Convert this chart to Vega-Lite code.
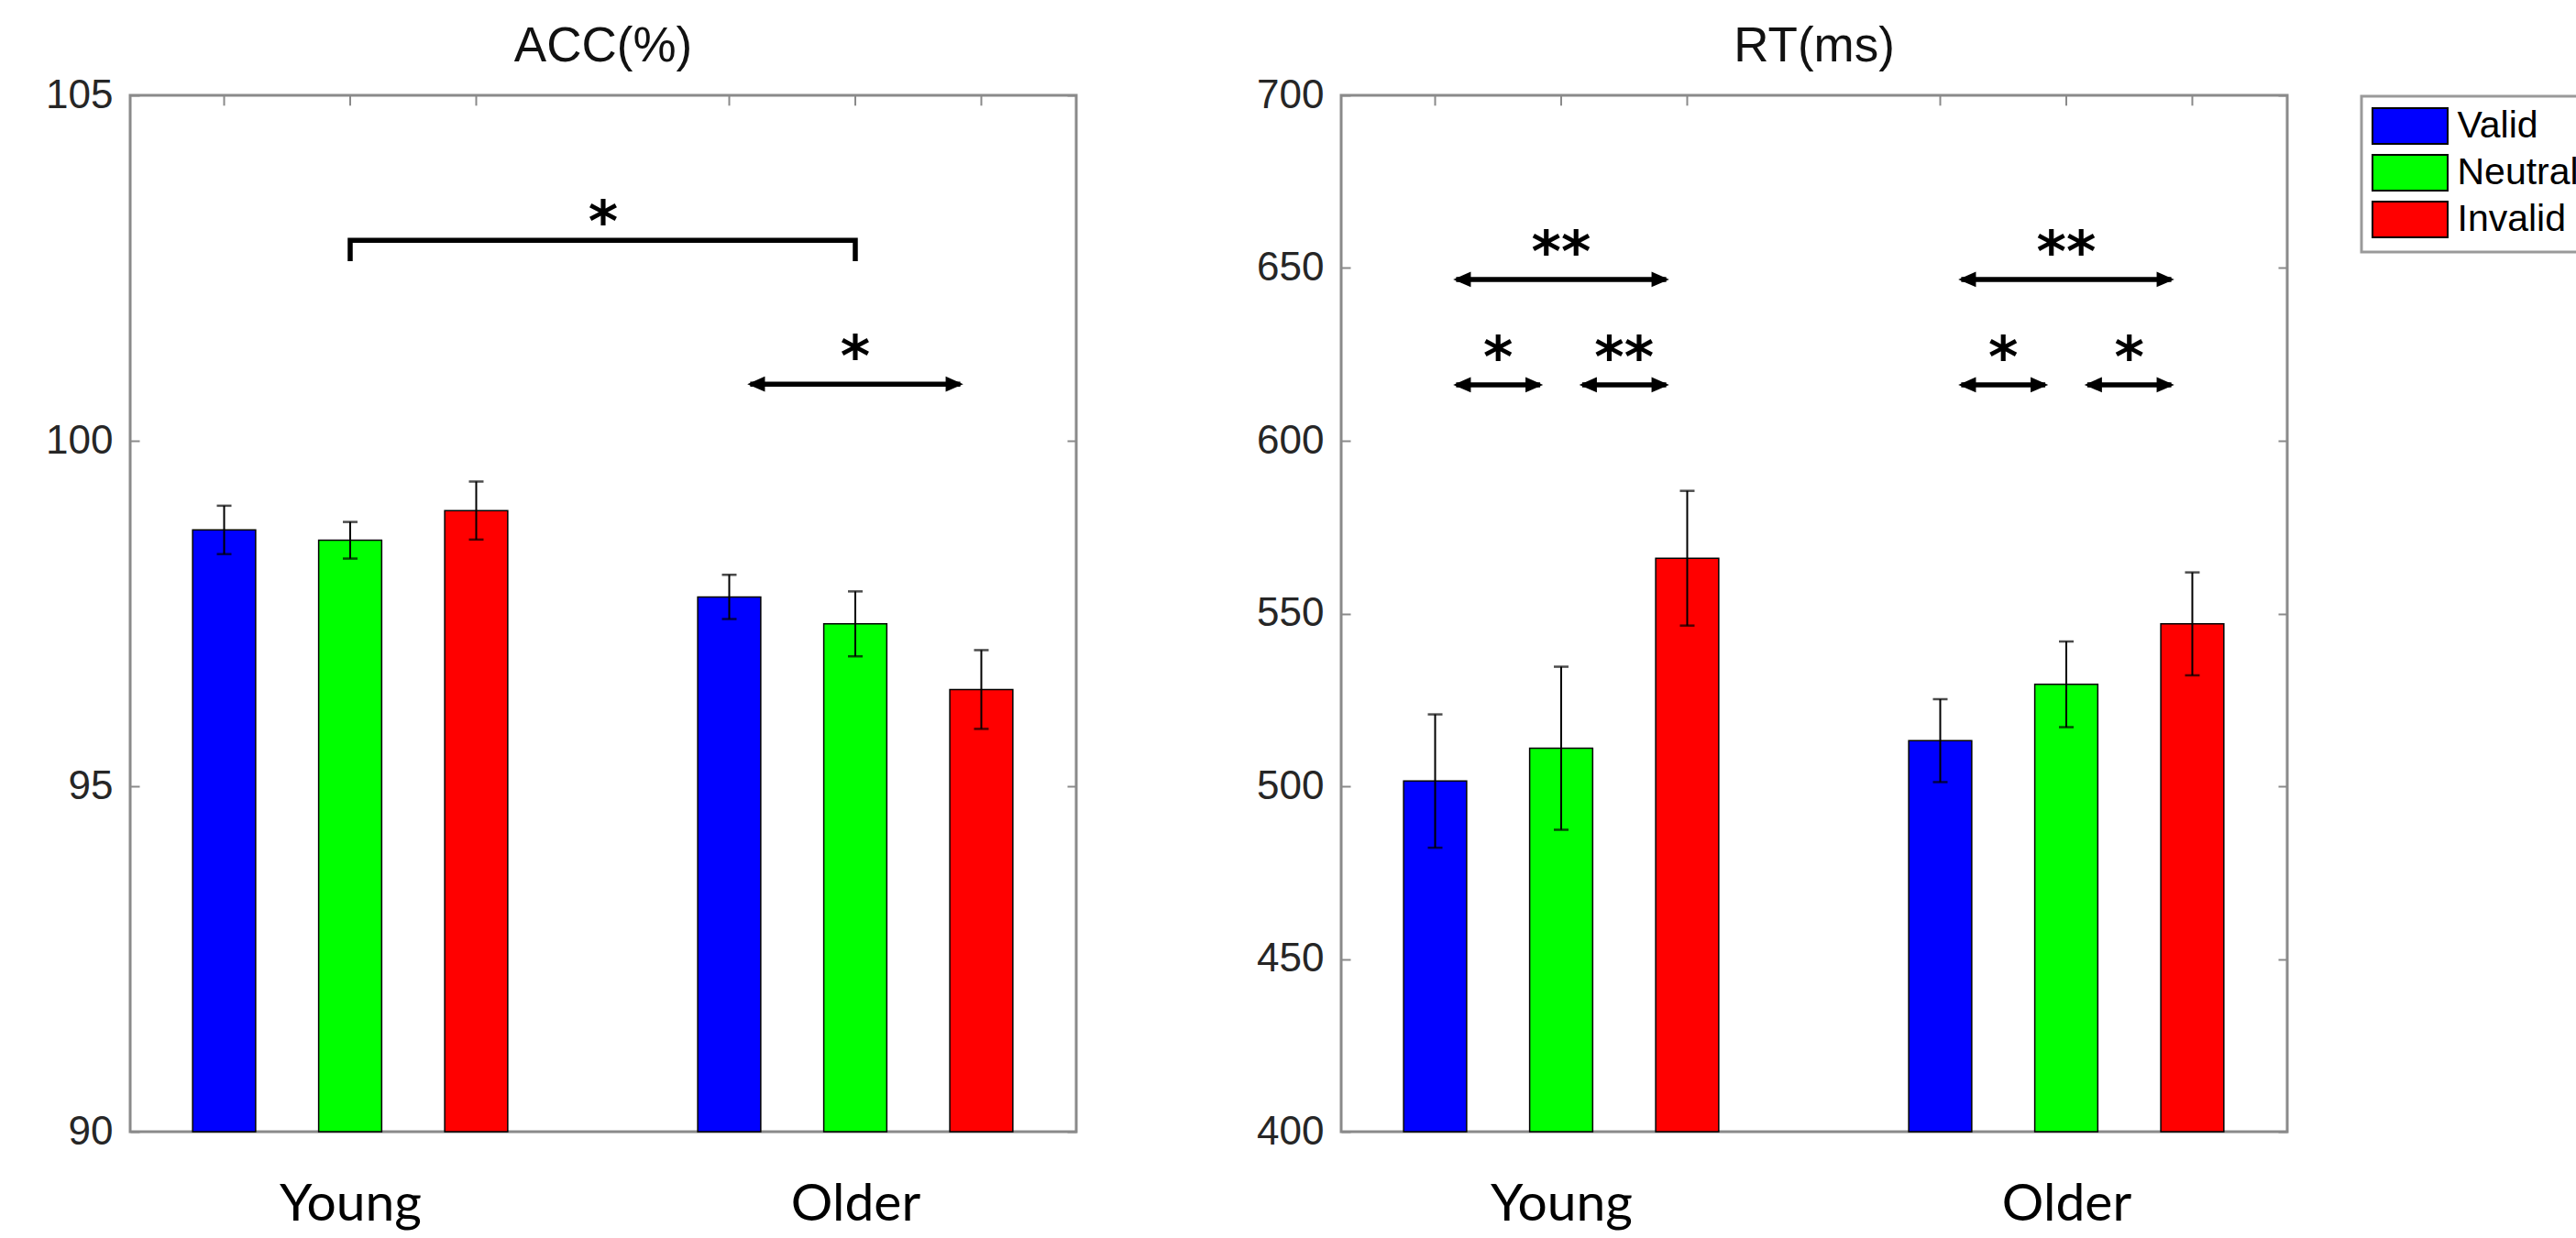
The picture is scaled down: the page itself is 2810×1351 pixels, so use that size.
{
  "$schema": "https://vega.github.io/schema/vega-lite/v6.json",
  "background": "white",
  "padding": {"top": 23, "left": 48, "right": 0, "bottom": 5},
  "config": {
    "view": {"stroke": "#8a8a8a", "strokeWidth": 3},
    "font": "Liberation Sans",
    "concat": {"spacing": 192},
    "title": {"font": "Liberation Sans", "fontSize": 53, "fontWeight": "normal", "color": "#111111", "anchor": "middle", "baseline": "alphabetic", "offset": 4},
    "axis": {"grid": false, "title": null},
    "axisX": {"labelFont": "Lato", "labelFontSize": 57, "labelColor": "#000000", "labelPadding": 96, "labelBaseline": "alphabetic", "labelAngle": 0, "ticks": false, "tickSize": 0, "domain": false},
    "axisY": {"labelFont": "Liberation Sans", "labelFontSize": 44, "labelColor": "#262626", "tickSize": -10, "tickWidth": 2, "tickColor": "#8a8a8a", "labelPadding": 29, "domain": false, "labelFlush": false, "labelOverlap": false, "labelBound": false, "format": "d"},
    "legend": {
      "title": null,
      "symbolType": "M-2.1026,-1H2.1026V1H-2.1026Z", "symbolSize": 1521, "symbolOffset": 20.5,
      "symbolStrokeColor": "black", "symbolStrokeWidth": 2, "symbolOpacity": 1,
      "labelFont": "Liberation Sans", "labelFontSize": 41, "labelColor": "#000000", "labelOffset": 31, "labelLimit": 0,
      "strokeColor": "#9a9a9a", "strokeWidth": 3, "fillColor": "white", "padding": 12, "rowPadding": 4
    }
  },
  "datasets": {
    "acc_bars": [
      {"group": "Young", "cond": "Valid", "mean": 98.71, "se": 0.35},
      {"group": "Young", "cond": "Neutral", "mean": 98.56, "se": 0.265},
      {"group": "Young", "cond": "Invalid", "mean": 98.99, "se": 0.42},
      {"group": "Older", "cond": "Valid", "mean": 97.74, "se": 0.32},
      {"group": "Older", "cond": "Neutral", "mean": 97.35, "se": 0.47},
      {"group": "Older", "cond": "Invalid", "mean": 96.40, "se": 0.57}
    ],
    "rt_bars": [
      {"group": "Young", "cond": "Valid", "mean": 501.5, "se": 19.3},
      {"group": "Young", "cond": "Neutral", "mean": 511.0, "se": 23.6},
      {"group": "Young", "cond": "Invalid", "mean": 566.0, "se": 19.5},
      {"group": "Older", "cond": "Valid", "mean": 513.2, "se": 12.0},
      {"group": "Older", "cond": "Neutral", "mean": 529.5, "se": 12.4},
      {"group": "Older", "cond": "Invalid", "mean": 547.0, "se": 14.9}
    ],
    "acc_arrows": [
      {"id": "O-VI", "group": "Older", "cond": "s1", "y": 100.82, "end": "L"},
      {"id": "O-VI", "group": "Older", "cond": "s11", "y": 100.82, "end": "R"}
    ],
    "acc_stars": [
      {"group": "Older", "cond": "Neutral", "y": 100.82, "label": "*"}
    ],
    "acc_bracket": [
      {"k": 1, "group": "Young", "cond": "Neutral", "y": 102.6},
      {"k": 2, "group": "Young", "cond": "Neutral", "y": 102.9},
      {"k": 3, "group": "Older", "cond": "Neutral", "y": 102.9},
      {"k": 4, "group": "Older", "cond": "Neutral", "y": 102.6}
    ],
    "acc_bracket_star": [
      {"group": "Young", "y": 102.9, "label": "*"}
    ],
    "rt_arrows": [
      {"id": "Y-VI", "group": "Young", "cond": "s1", "y": 646.7, "end": "L"},
      {"id": "Y-VI", "group": "Young", "cond": "s11", "y": 646.7, "end": "R"},
      {"id": "Y-VN", "group": "Young", "cond": "s1", "y": 616.2, "end": "L"},
      {"id": "Y-VN", "group": "Young", "cond": "s5", "y": 616.2, "end": "R"},
      {"id": "Y-NI", "group": "Young", "cond": "s7", "y": 616.2, "end": "L"},
      {"id": "Y-NI", "group": "Young", "cond": "s11", "y": 616.2, "end": "R"},
      {"id": "O-VI", "group": "Older", "cond": "s1", "y": 646.7, "end": "L"},
      {"id": "O-VI", "group": "Older", "cond": "s11", "y": 646.7, "end": "R"},
      {"id": "O-VN", "group": "Older", "cond": "s1", "y": 616.2, "end": "L"},
      {"id": "O-VN", "group": "Older", "cond": "s5", "y": 616.2, "end": "R"},
      {"id": "O-NI", "group": "Older", "cond": "s7", "y": 616.2, "end": "L"},
      {"id": "O-NI", "group": "Older", "cond": "s11", "y": 616.2, "end": "R"}
    ],
    "rt_stars": [
      {"group": "Young", "cond": "Neutral", "y": 646.7, "label": "**"},
      {"group": "Young", "cond": "s3", "y": 616.2, "label": "*"},
      {"group": "Young", "cond": "s9", "y": 616.2, "label": "**"},
      {"group": "Older", "cond": "Neutral", "y": 646.7, "label": "**"},
      {"group": "Older", "cond": "s3", "y": 616.2, "label": "*"},
      {"group": "Older", "cond": "s9", "y": 616.2, "label": "*"}
    ]
  },
  "resolve": {"scale": {"color": "independent"}},
  "hconcat": [
    {
      "title": "ACC(%)",
      "width": 1032,
      "height": 1131,
      "resolve": {"axis": {"y": "independent"}},
      "layer": [
        {
          "layer": [
            {
              "data": {"name": "acc_bars"},
              "mark": {"type": "bar", "stroke": "black", "strokeWidth": 1.5, "width": {"band": 3}},
              "encoding": {
                "x": {"field": "group", "type": "nominal", "title": null, "scale": {"domain": ["Young", "Older"], "paddingInner": 0.9584, "paddingOuter": 0.4157}},
                "xOffset": {"field": "cond", "type": "nominal", "scale": {"domain": ["Valid", "s1", "s2", "s3", "s4", "s5", "Neutral", "s7", "s8", "s9", "s10", "s11", "Invalid"], "range": [-138, 159.9], "paddingInner": 0, "paddingOuter": 0}},
                "y": {"field": "mean", "type": "quantitative", "title": null, "scale": {"domain": [90, 105], "zero": false, "nice": false}, "axis": {"values": [90, 95, 100, 105]}},
                "y2": {"datum": 90},
                "color": {"field": "cond", "type": "nominal", "scale": {"domain": ["Valid", "Neutral", "Invalid"], "range": ["#0000ff", "#00ff00", "#ff0000"]}, "legend": null}
              }
            },
            {
              "data": {"name": "acc_bars"},
              "mark": {"type": "errorbar", "color": "black", "thickness": 2, "ticks": {"size": 16, "thickness": 2.5, "color": "black"}},
              "encoding": {
                "x": {"field": "group", "type": "nominal", "title": null},
                "xOffset": {"field": "cond", "type": "nominal"},
                "y": {"field": "mean", "type": "quantitative", "title": null},
                "yError": {"field": "se"}
              }
            },
            {
              "data": {"name": "acc_bars"},
              "mark": {"type": "rule", "color": "#8a8a8a", "strokeWidth": 2},
              "encoding": {
                "x": {"field": "group", "type": "nominal", "title": null},
                "xOffset": {"field": "cond", "type": "nominal"},
                "y": {"datum": 105},
                "y2": {"datum": 104.85}
              }
            },
            {
              "data": {"name": "acc_arrows"},
              "mark": {"type": "line", "color": "black", "strokeWidth": 5.5},
              "encoding": {
                "x": {"field": "group", "type": "nominal", "title": null},
                "xOffset": {"field": "cond", "type": "nominal"},
                "y": {"field": "y", "type": "quantitative", "title": null},
                "detail": {"field": "id"}
              }
            },
            {
              "data": {"name": "acc_arrows"},
              "mark": {"type": "point", "filled": true, "color": "black", "opacity": 1, "size": 256, "strokeWidth": 0},
              "encoding": {
                "x": {"field": "group", "type": "nominal", "title": null},
                "xOffset": {"field": "cond", "type": "nominal"},
                "y": {"field": "y", "type": "quantitative", "title": null},
                "shape": {"field": "end", "type": "nominal", "scale": {"domain": ["L", "R"], "range": ["M-0.4,0L2,-1.05L2,1.05Z", "M0.4,0L-2,-1.05L-2,1.05Z"]}, "legend": null}
              }
            },
            {
              "data": {"name": "acc_stars"},
              "mark": {"type": "text", "font": "DejaVu Sans", "fontWeight": "bold", "fontSize": 62, "baseline": "alphabetic", "align": "center", "color": "black", "dy": -9},
              "encoding": {
                "x": {"field": "group", "type": "nominal", "title": null},
                "xOffset": {"field": "cond", "type": "nominal"},
                "y": {"field": "y", "type": "quantitative", "title": null},
                "text": {"field": "label"}
              }
            },
            {
              "data": {"name": "acc_bracket"},
              "mark": {"type": "line", "color": "black", "strokeWidth": 5.5, "strokeJoin": "miter"},
              "encoding": {
                "x": {"field": "group", "type": "nominal", "title": null},
                "xOffset": {"field": "cond", "type": "nominal"},
                "y": {"field": "y", "type": "quantitative", "title": null},
                "order": {"field": "k", "type": "quantitative"}
              }
            },
            {
              "data": {"name": "acc_bracket_star"},
              "mark": {"type": "text", "font": "DejaVu Sans", "fontWeight": "bold", "fontSize": 62, "baseline": "alphabetic", "align": "center", "color": "black", "dy": 1},
              "encoding": {
                "x": {"field": "group", "type": "nominal", "title": null, "bandPosition": 12.52},
                "y": {"field": "y", "type": "quantitative", "title": null},
                "text": {"field": "label"}
              }
            }
          ]
        },
        {
          "data": {"name": "acc_bars"},
          "mark": {"type": "tick", "opacity": 0},
          "encoding": {
            "y": {"field": "mean", "type": "quantitative", "title": null, "scale": {"domain": [90, 105], "zero": false, "nice": false}, "axis": {"orient": "right", "labels": false, "values": [90, 95, 100, 105]}}
          }
        }
      ]
    },
    {
      "title": "RT(ms)",
      "width": 1032,
      "height": 1131,
      "resolve": {"axis": {"y": "independent"}},
      "layer": [
        {
          "layer": [
            {
              "data": {"name": "rt_bars"},
              "mark": {"type": "bar", "stroke": "black", "strokeWidth": 1.5, "width": {"band": 3}},
              "encoding": {
                "x": {"field": "group", "type": "nominal", "title": null, "scale": {"domain": ["Young", "Older"], "paddingInner": 0.9584, "paddingOuter": 0.4157}},
                "xOffset": {"field": "cond", "type": "nominal", "scale": {"domain": ["Valid", "s1", "s2", "s3", "s4", "s5", "Neutral", "s7", "s8", "s9", "s10", "s11", "Invalid"], "range": [-138, 159.9], "paddingInner": 0, "paddingOuter": 0}},
                "y": {"field": "mean", "type": "quantitative", "title": null, "scale": {"domain": [400, 700], "zero": false, "nice": false}, "axis": {"values": [400, 450, 500, 550, 600, 650, 700]}},
                "y2": {"datum": 400},
                "color": {"field": "cond", "type": "nominal", "scale": {"domain": ["Valid", "Neutral", "Invalid"], "range": ["#0000ff", "#00ff00", "#ff0000"]}, "legend": {"orient": "none", "legendX": 1113, "legendY": 1}}
              }
            },
            {
              "data": {"name": "rt_bars"},
              "mark": {"type": "errorbar", "color": "black", "thickness": 2, "ticks": {"size": 16, "thickness": 2.5, "color": "black"}},
              "encoding": {
                "x": {"field": "group", "type": "nominal", "title": null},
                "xOffset": {"field": "cond", "type": "nominal"},
                "y": {"field": "mean", "type": "quantitative", "title": null},
                "yError": {"field": "se"}
              }
            },
            {
              "data": {"name": "rt_bars"},
              "mark": {"type": "rule", "color": "#8a8a8a", "strokeWidth": 2},
              "encoding": {
                "x": {"field": "group", "type": "nominal", "title": null},
                "xOffset": {"field": "cond", "type": "nominal"},
                "y": {"datum": 700},
                "y2": {"datum": 697}
              }
            },
            {
              "data": {"name": "rt_arrows"},
              "mark": {"type": "line", "color": "black", "strokeWidth": 5.5},
              "encoding": {
                "x": {"field": "group", "type": "nominal", "title": null},
                "xOffset": {"field": "cond", "type": "nominal"},
                "y": {"field": "y", "type": "quantitative", "title": null},
                "detail": {"field": "id"}
              }
            },
            {
              "data": {"name": "rt_arrows"},
              "mark": {"type": "point", "filled": true, "color": "black", "opacity": 1, "size": 256, "strokeWidth": 0},
              "encoding": {
                "x": {"field": "group", "type": "nominal", "title": null},
                "xOffset": {"field": "cond", "type": "nominal"},
                "y": {"field": "y", "type": "quantitative", "title": null},
                "shape": {"field": "end", "type": "nominal", "scale": {"domain": ["L", "R"], "range": ["M-0.4,0L2,-1.05L2,1.05Z", "M0.4,0L-2,-1.05L-2,1.05Z"]}, "legend": null}
              }
            },
            {
              "data": {"name": "rt_stars"},
              "mark": {"type": "text", "font": "DejaVu Sans", "fontWeight": "bold", "fontSize": 62, "baseline": "alphabetic", "align": "center", "color": "black", "dy": -9},
              "encoding": {
                "x": {"field": "group", "type": "nominal", "title": null},
                "xOffset": {"field": "cond", "type": "nominal"},
                "y": {"field": "y", "type": "quantitative", "title": null},
                "text": {"field": "label"}
              }
            }
          ]
        },
        {
          "data": {"name": "rt_bars"},
          "mark": {"type": "tick", "opacity": 0},
          "encoding": {
            "y": {"field": "mean", "type": "quantitative", "title": null, "scale": {"domain": [400, 700], "zero": false, "nice": false}, "axis": {"orient": "right", "labels": false, "values": [400, 450, 500, 550, 600, 650, 700]}}
          }
        }
      ]
    }
  ]
}
